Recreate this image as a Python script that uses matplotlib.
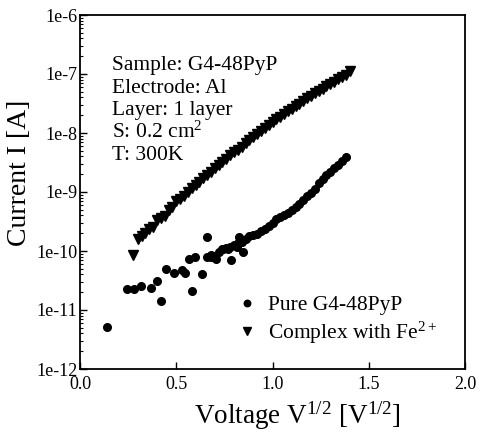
import numpy as np
import matplotlib
matplotlib.use("Agg")
import matplotlib.pyplot as plt
from matplotlib.ticker import FixedLocator, FuncFormatter, LogLocator, NullFormatter

plt.rcParams["font.family"] = ["Liberation Serif", "DejaVu Serif"]
plt.rcParams["mathtext.fontset"] = "custom"
plt.rcParams["mathtext.rm"] = "Liberation Serif"
plt.rcParams["mathtext.it"] = "Liberation Serif:italic"

# ----------------------------------
# DATA (current as log10(I / A))
# ----------------------------------
# Pure G4-48PyP: scattered low-voltage points
pure_v_scatter = [0.138, 0.242, 0.280, 0.315, 0.370, 0.398, 0.422, 0.447, 0.490,
                  0.528, 0.545, 0.564, 0.582, 0.599, 0.632, 0.659, 0.678, 0.706,
                  0.744, 0.770, 0.786, 0.813, 0.824, 0.848]
pure_logi_scatter = [-11.28, -10.64, -10.64, -10.60, -10.62, -10.51, -10.85, -10.31, -10.37,
                     -10.32, -10.37, -10.14, -10.67, -10.10, -10.39, -9.76, -10.10, -10.14,
                     -9.97, -9.96, -10.16, -9.93, -9.77, -10.02]
# Pure G4-48PyP: dense part of the curve
pure_v_dense = [0.66, 0.68, 0.70, 0.72, 0.74, 0.76, 0.78, 0.80, 0.82, 0.84,
                0.86, 0.88, 0.90, 0.92, 0.94, 0.96, 0.98, 1.00, 1.02, 1.04,
                1.06, 1.08, 1.10, 1.12, 1.14, 1.16, 1.18, 1.20, 1.22, 1.24,
                1.26, 1.28, 1.30, 1.32, 1.34, 1.36, 1.38]
pure_logi_dense = [-10.10, -10.06, -10.08, -10.02, -9.97, -9.95, -9.94, -9.90, -9.86, -9.85,
                   -9.80, -9.74, -9.73, -9.72, -9.66, -9.62, -9.58, -9.52, -9.46, -9.42,
                   -9.39, -9.35, -9.30, -9.25, -9.20, -9.14, -9.07, -9.01, -8.95, -8.84,
                   -8.78, -8.72, -8.66, -8.60, -8.54, -8.47, -8.40]

# Complex with Fe2+
fe_v = [0.277, 0.30, 0.32, 0.34, 0.36, 0.38, 0.40, 0.42, 0.44, 0.46, 0.48,
        0.50, 0.52, 0.54, 0.56, 0.58, 0.60, 0.62, 0.64, 0.66, 0.68,
        0.70, 0.72, 0.74, 0.76, 0.78, 0.80, 0.82, 0.84, 0.86, 0.88,
        0.90, 0.92, 0.94, 0.96, 0.98, 1.00, 1.02, 1.04, 1.06, 1.08,
        1.10, 1.12, 1.14, 1.16, 1.18, 1.20, 1.22, 1.24, 1.26, 1.28,
        1.30, 1.32, 1.34, 1.36, 1.38, 1.40]
fe_logi = [-10.07, -9.80, -9.74, -9.70, -9.62, -9.60, -9.48, -9.44, -9.40, -9.30, -9.26,
           -9.16, -9.12, -9.06, -9.00, -8.94, -8.88, -8.83, -8.77, -8.71, -8.66,
           -8.60, -8.55, -8.49, -8.44, -8.38, -8.33, -8.28, -8.23, -8.17, -8.12,
           -8.07, -8.02, -7.97, -7.92, -7.87, -7.82, -7.77, -7.73, -7.68, -7.63,
           -7.59, -7.54, -7.50, -7.45, -7.41, -7.37, -7.33, -7.29, -7.25, -7.21,
           -7.17, -7.13, -7.09, -7.05, -7.01, -6.95]

info_lines = ["Sample: G4-48PyP", "Electrode: Al", "Layer: 1 layer",
              "S: 0.2 cm$^{2}$", "T: 300K"]
y_exponents = [-12, -11, -10, -9, -8, -7, -6]
x_ticks = [0.0, 0.5, 1.0, 1.5, 2.0]

# -------------------------------
# FIGURE
# -------------------------------
fig = plt.figure(figsize=(4.79, 4.33), dpi=100)
ax = fig.add_axes([80 / 479, 1 - 369 / 433, 385 / 479, 354 / 433])

pure_v = pure_v_scatter + pure_v_dense
pure_i = 10.0 ** np.array(pure_logi_scatter + pure_logi_dense)
fe_i = 10.0 ** np.array(fe_logi)

ax.plot(pure_v, pure_i, "o", color="black", markersize=5.5, linestyle="none",
        label="Pure G4-48PyP")
ax.plot(fe_v, fe_i, "v", color="black", markersize=7, linestyle="none",
        label="Complex with Fe$^{2+}$")

ax.set_yscale("log")
ax.set_xlim(0, 2.0)
ax.set_ylim(1e-12, 1e-6)

ax.xaxis.set_major_locator(FixedLocator(x_ticks))
ax.xaxis.set_major_formatter(FuncFormatter(lambda v, p: f"{v:.1f}"))
ax.yaxis.set_major_locator(FixedLocator([10.0 ** e for e in y_exponents]))
ax.yaxis.set_major_formatter(FuncFormatter(lambda v, p: f"1e{int(round(np.log10(v)))}"))
ax.yaxis.set_minor_locator(LogLocator(base=10, subs=np.arange(2, 10) * 1.0, numticks=20))
ax.yaxis.set_minor_formatter(NullFormatter())

ax.tick_params(axis="both", which="major", direction="in", length=5, width=1,
               labelsize=13)
ax.tick_params(axis="y", which="minor", direction="in", length=2.5, width=0.8)
ax.tick_params(axis="x", pad=5)
ax.tick_params(axis="y", pad=2)
for s in ax.spines.values():
    s.set_linewidth(1.3)

ax.set_xlabel("Voltage V$^{1/2}$ [V$^{1/2}$]", fontsize=19.5)
ax.set_ylabel("Current I [A]", fontsize=20)
ax.xaxis.set_label_coords(0.564, -0.085)
ax.yaxis.set_label_coords(-0.125, 0.554)

# info block
y_pos = [0.845, 0.781, 0.718, 0.654, 0.590]
for txt, yy in zip(info_lines, y_pos):
    ax.text(0.083, yy, txt, transform=ax.transAxes, fontsize=15.5,
            ha="left", va="baseline")

ax.legend(loc="lower left", bbox_to_anchor=(0.405, 0.065), frameon=False,
          fontsize=15.5, handlelength=1.0, handletextpad=0.5, labelspacing=0.2,
          borderpad=0, borderaxespad=0, markerscale=0.85)

fig.savefig("out.png", dpi=100)
